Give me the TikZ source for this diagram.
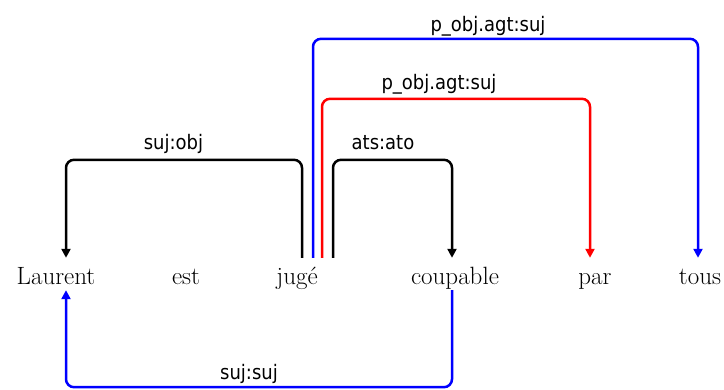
\documentclass[tikz,border=0pt]{standalone}
\usepackage{fontspec}
\newfontfamily\labelfont{DejaVu Sans Condensed}
\usetikzlibrary{arrows.meta,positioning}

\begin{document}
\begin{tikzpicture}[
    x=1pt, y=1pt,
    word/.style={anchor=base, inner xsep=0pt, inner ysep=0pt, text height=27pt, text depth=5pt, font=\fontsize{25}{30}\selectfont},
    lbl/.style={anchor=base, inner sep=0pt, font=\labelfont\fontsize{20}{24}\selectfont},
    dep/.style={-{Triangle[length=9pt,width=9pt]}, line width=2.5pt, rounded corners=8pt},
]
    \useasboundingbox (0,0) rectangle (724,390);
    % words
    \node[word] (laurent) at (56,105) {Laurent};
    \node[word] (est) at (186,105) {est};
    \node[word] (juge) at (297,105) {jugé};
    \node[word] (coupable) at (455,105) {coupable};
    \node[word] (par) at (595,105) {par};
    \node[word] (tous) at (700,105) {tous};
    % dependencies above
    \draw[dep] ([xshift=5pt]juge.north) -- ++(0,98) -| ([xshift=10pt]laurent.north);
    \draw[dep, blue] ([xshift=16pt]juge.north) -- ++(0,219) -| ([xshift=-2pt]tous.north);
    \draw[dep, red] ([xshift=25pt]juge.north) -- ++(0,159) -| ([xshift=-5pt]par.north);
    \draw[dep] ([xshift=36pt]juge.north) -- ++(0,98) -| ([xshift=-3pt]coupable.north);
    % dependency below
    \draw[dep, blue] ([xshift=-3pt]coupable.south) -- ++(0,-97) -| ([xshift=10pt]laurent.south);
    % labels
    \node[lbl] (l-sujobj) at (173.5,240) {suj:obj};
    \node[lbl] (l-atsato) at (383,240) {ats:ato};
    \node[lbl] (l-pobjred) at (439,300) {p\_obj.agt:suj};
    \node[lbl] (l-pobjblue) at (488,358) {p\_obj.agt:suj};
    \node[lbl] (l-sujsuj) at (249,10) {suj:suj};
\end{tikzpicture}
\end{document}
